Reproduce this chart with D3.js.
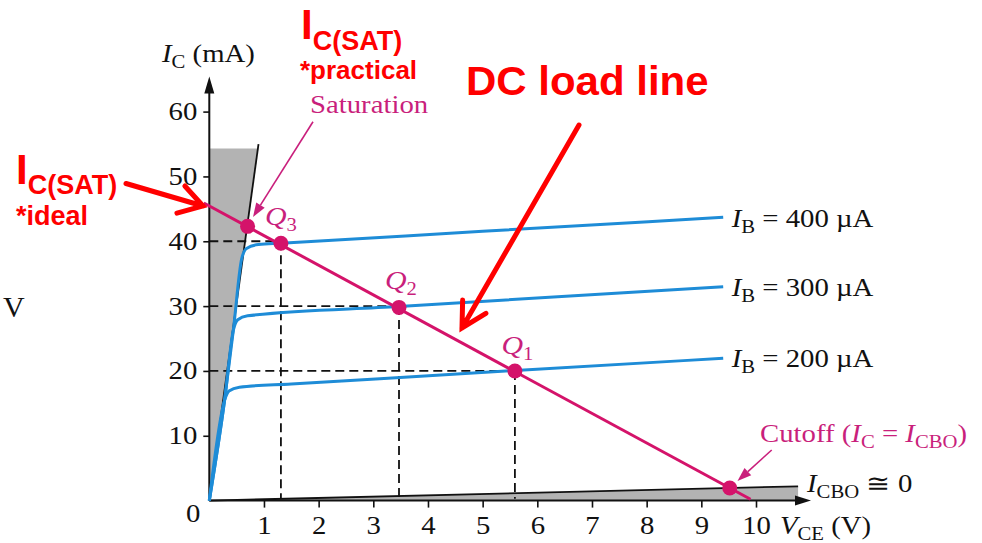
<!DOCTYPE html>
<html><head><meta charset="utf-8">
<script src="https://cdn.jsdelivr.net/npm/d3@7"></script>
<style>body{margin:0;background:#fff}svg{display:block}</style>
</head><body>
<svg id="c" width="982" height="543"></svg>
<script>
// ---- data ----
const xTicks = [1,2,3,4,5,6,7,8,9,10];
const yTicks = [10,20,30,40,50,60];
const ib200 = [[0,0],[0.28,15.5],[0.36,16.9],[0.55,17.5],[1.5,17.98],[5.6,20.06],[9.4,21.95]];
const ib300 = [[0,0],[0.28,15.5],[0.44,26.3],[0.52,27.9],[0.7,28.5],[3.47,29.93],[9.4,33.0]];
const ib400 = [[0,0],[0.28,15.5],[0.44,26.3],[0.59,37.2],[0.68,38.9],[0.9,39.5],[1.31,39.7],[5,41.53],[9.4,43.7]];
const curveLabels = ["400","300","200"];
const loadLine = [[-0.1,45.9],[9.9,0.2]];
const qPoints = [[0.7,42.3],[1.31,39.7],[3.47,29.8],[5.59,20.0],[9.52,1.95]];
const qDashed = [[1.31,40],[3.47,30],[5.59,20]];
const satTop = 54.3, satEdge = [[0,0],[0.9,55]];
const cutEdge = [[0,0],[10.77,2.2]];

// ---- setup ----
const svg = d3.select("#c");
const x = d3.scaleLinear().domain([0,10]).range([209.3,756]);
const y = d3.scaleLinear().domain([0,60]).range([500.6,111.6]);
const SERIF = "'Liberation Serif','Times New Roman',serif";
const SANS = "'Liberation Sans',Arial,sans-serif";
const SX = 1.15;
const BLUE = "#1e8cd7", MAG = "#d4136a", MAGT = "#c91f7c", RED = "#ff0000";

// gray regions
const satX = satEdge[1][0]*satTop/satEdge[1][1];
svg.append("path").attr("fill","#b3b3b3")
  .attr("d", d3.line()([[x(0),y(0)],[x(satX),y(satTop)],[x(0),y(satTop)]]));
svg.append("path").attr("fill","#b3b3b3")
  .attr("d", d3.line()([[x(0),y(0)],[x(cutEdge[1][0]),y(cutEdge[1][1])],[x(cutEdge[1][0]),y(0)]]));
const line = d3.line().x(d=>x(d[0])).y(d=>y(d[1]));
svg.append("path").attr("d", line(satEdge)).attr("stroke","#111").attr("stroke-width",1.8).attr("fill","none");
svg.append("path").attr("d", line(cutEdge)).attr("stroke","#111").attr("stroke-width",1.8).attr("fill","none");

// dashed guides
qDashed.forEach(([v,i])=>{
  svg.append("line").attr("x1",x(0)).attr("x2",x(v)).attr("y1",y(i)).attr("y2",y(i))
    .attr("stroke","#111").attr("stroke-width",1.8).attr("stroke-dasharray","9,5");
  svg.append("line").attr("x1",x(v)).attr("x2",x(v)).attr("y1",y(i)).attr("y2",y(0.3))
    .attr("stroke","#111").attr("stroke-width",1.8).attr("stroke-dasharray","9,5");
});

// axes
const ya = svg.append("g").attr("transform",`translate(${x(0)},0)`)
  .call(d3.axisLeft(y).tickValues(yTicks).tickSize(6).tickPadding(6));
const xa = svg.append("g").attr("transform",`translate(0,${y(0)})`)
  .call(d3.axisBottom(x).tickValues(xTicks).tickSize(7).tickPadding(9));
[ya,xa].forEach(g=>{
  g.select(".domain").remove();
  g.selectAll(".tick line").attr("stroke","#111").attr("stroke-width",1.6);
  g.selectAll(".tick text").attr("font-family",SERIF).attr("font-size",25).attr("fill","#111");
});
ya.selectAll(".tick text").each(function(){
  const t=d3.select(this); const xx=+t.attr("x"); t.attr("x",0).attr("transform",`translate(${xx},0) scale(${SX},1)`);
});
xa.selectAll(".tick text").each(function(){
  const t=d3.select(this); const yy=+t.attr("y"); t.attr("y",0).attr("transform",`translate(0,${yy}) scale(${SX},1)`);
});
// axis lines with arrows
svg.append("line").attr("x1",x(0)).attr("x2",x(0)).attr("y1",y(0)).attr("y2",90).attr("stroke","#111").attr("stroke-width",2);
svg.append("path").attr("d",`M${x(0)},76.5 L${x(0)-5},93.5 L${x(0)+5},93.5 Z`).attr("fill","#111");
svg.append("line").attr("x1",x(0)).attr("x2",798).attr("y1",y(0)).attr("y2",y(0)).attr("stroke","#111").attr("stroke-width",2);
svg.append("path").attr("d",`M811,${y(0)} L795,${y(0)-5} L795,${y(0)+5} Z`).attr("fill","#111");

// IB curves
const cl = d3.line().x(d=>x(d[0])).y(d=>y(d[1])).curve(d3.curveMonotoneX);
[ib400,ib300,ib200].forEach(c=>{
  svg.append("path").attr("d",cl(c)).attr("stroke",BLUE).attr("stroke-width",3).attr("fill","none");
});

// load line
svg.append("path").attr("d",line(loadLine)).attr("stroke",MAG).attr("stroke-width",3).attr("fill","none");
svg.selectAll("circle.q").data(qPoints).join("circle").attr("class","q")
  .attr("cx",d=>x(d[0])).attr("cy",d=>y(d[1])).attr("r",7.5).attr("fill",MAG);

// text helper
function label(px,py,parts,opt){
  opt = opt||{};
  const t = svg.append("text").attr("transform",`translate(${px},${py}) scale(${opt.sx||SX},1)`)
    .attr("font-family",opt.font||SERIF).attr("font-size",opt.size||25).attr("fill",opt.fill||"#111")
    .attr("text-anchor",opt.anchor||"start").attr("font-weight",opt.weight||"normal");
  let off=0;
  parts.forEach(p=>{
    const s=t.append("tspan").text(p.t);
    if(p.it) s.attr("font-style","italic");
    if(p.size) s.attr("font-size",p.size);
    const target = p.sub? (p.sub===true? (opt.subDy||6): p.sub) : 0;
    if(target!==off){ s.attr("dy",target-off); off=target; }
  });
  return t;
}
// axis titles
label(162,62,[{t:"I",it:true},{t:"C",sub:true,size:18},{t:" (mA)"}]);
label(780,534,[{t:"V",it:true},{t:"CE",sub:true,size:18},{t:" (V)"}]);
label(193.3,521.7,[{t:"0"}],{anchor:"middle"});
label(3,316.5,[{t:"V"}],{size:30,sx:1});
// IB labels
const ibY=[227,296,366.5];
curveLabels.forEach((v,k)=>{
  label(731.7,ibY[k],[{t:"I",it:true},{t:"B",sub:true,size:18},{t:" = "+v+" \u00b5A"}]);
});
label(807,492,[{t:"I",it:true},{t:"CBO",sub:true,size:18},{t:" \u2245 0"}]);
// magenta labels
label(310,113,[{t:"Saturation"}],{fill:MAGT});
label(760,441.5,[{t:"Cutoff ("},{t:"I",it:true},{t:"C",sub:true,size:18},{t:" = "},{t:"I",it:true},{t:"CBO",sub:true,size:18},{t:")"}],{fill:MAGT});
const qLab=[["3",265,225],["2",385,289],["1",501.5,354]];
qLab.forEach(([n,lx,ly])=>label(lx,ly,[{t:"Q",it:true},{t:n,sub:true,size:18}],{fill:MAGT,size:26}));

// magenta arrows
function fArrow(x1,y1,x2,y2,col,w,hl,hw){
  const a=Math.atan2(y2-y1,x2-x1);
  const bx=x2-hl*Math.cos(a), by=y2-hl*Math.sin(a);
  svg.append("line").attr("x1",x1).attr("y1",y1).attr("x2",bx).attr("y2",by).attr("stroke",col).attr("stroke-width",w);
  const px=-Math.sin(a)*hw, py=Math.cos(a)*hw;
  svg.append("path").attr("d",`M${x2},${y2} L${bx+px},${by+py} L${bx-px},${by-py} Z`).attr("fill",col);
}
fArrow(313,121.7,253,217,MAGT,1.6,14,5);
fArrow(771.7,450,737.5,481,MAGT,1.6,14,5);

// red chevron arrows
function cArrow(x1,y1,x2,y2,w,hl,ang){
  const a=Math.atan2(y2-y1,x2-x1);
  const p1=[x2-hl*Math.cos(a-ang), y2-hl*Math.sin(a-ang)];
  const p2=[x2-hl*Math.cos(a+ang), y2-hl*Math.sin(a+ang)];
  svg.append("path").attr("d",`M${x1},${y1} L${x2},${y2} M${p1[0]},${p1[1]} L${x2},${y2} L${p2[0]},${p2[1]}`)
    .attr("stroke",RED).attr("stroke-width",w).attr("fill","none").attr("stroke-linecap","round").attr("stroke-linejoin","miter");
}
cArrow(126,183.5,203,206,5,27,0.55);
cArrow(579,125,462,328,5,28,0.5);

// red labels
label(301,38.5,[{t:"I",size:42},{t:"C(SAT)",sub:11.5,size:27}],{font:SANS,weight:"bold",fill:RED,sx:1});
label(300,79,[{t:"*practical"}],{font:SANS,weight:"bold",fill:RED,size:26,sx:1});
label(16,183.5,[{t:"I",size:42},{t:"C(SAT)",sub:10,size:27}],{font:SANS,weight:"bold",fill:RED,sx:1});
label(16,225,[{t:"*ideal"}],{font:SANS,weight:"bold",fill:RED,size:27,sx:1});
label(466,95,[{t:"DC load line"}],{font:SANS,weight:"bold",fill:RED,size:40,sx:1.05});
</script>
</body></html>
